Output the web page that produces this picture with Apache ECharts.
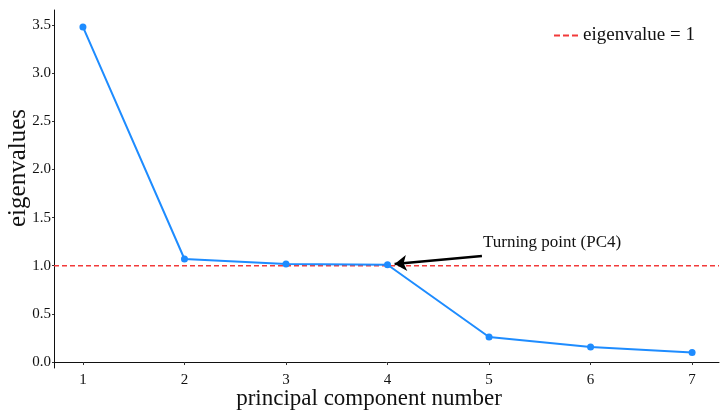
<!DOCTYPE html>
<html>
<head>
<meta charset="utf-8">
<script src="https://cdn.jsdelivr.net/npm/echarts@6/dist/echarts.min.js"></script>
<style>
  html, body { margin: 0; padding: 0; background: #fff; }
  #chart { width: 728px; height: 417px; }
</style>
</head>
<body>
<div id="chart"></div>
<script>
// scree plot data
const components = [1, 2, 3, 4, 5, 6, 7];
const eigenvalues = [3.48, 1.07, 1.018, 1.01, 0.26, 0.157, 0.1];
const yTicks = [0, 0.5, 1, 1.5, 2, 2.5, 3, 3.5];
const threshold = 1;
const thresholdName = 'eigenvalue = 1';
const annotationText = 'Turning point (PC4)';

const serif = '"Liberation Serif", "DejaVu Serif", serif';
const xMin = 0.715, xMax = 7.265;
const yMin = -0.062, yMax = 3.656;
const red = '#f23a3a';
const blue = '#1e8cff';

const chart = echarts.init(document.getElementById('chart'), null, { renderer: 'canvas' });

chart.setOption({
  animation: false,
  grid: { left: 54, right: 9, top: 10, bottom: 49 },
  legend: {
    data: [{
      name: thresholdName,
      // three short dashes like the ggplot key
      icon: 'path://M0,0h6v2h-6zM9,0h6v2h-6zM18,0h6v2h-6z',
      itemStyle: { color: red },
    }],
    right: 28,
    top: 21,
    itemWidth: 24,
    itemHeight: 2,
    itemGap: 8,
    textStyle: { fontFamily: serif, fontSize: 19, color: '#111' },
  },
  xAxis: {
    type: 'value',
    min: xMin,
    max: xMax,
    axisLine: { lineStyle: { color: '#111', width: 1 } },
    axisTick: { show: true, length: 3, customValues: components, lineStyle: { color: '#333' } },
    axisLabel: {
      customValues: components,
      color: '#111',
      fontFamily: serif,
      fontSize: 15,
      margin: 5,
    },
    splitLine: { show: false },
  },
  yAxis: {
    type: 'value',
    min: yMin,
    max: yMax,
    axisLine: { show: true, lineStyle: { color: '#111', width: 1 } },
    axisTick: { show: true, length: 2, customValues: yTicks, lineStyle: { color: '#333' } },
    axisLabel: {
      customValues: yTicks,
      color: '#111',
      fontFamily: serif,
      fontSize: 15,
      margin: 3,
      formatter: (v) => v.toFixed(1),
    },
    splitLine: { show: false },
  },
  series: [
    {
      name: thresholdName,
      type: 'line',
      symbol: 'none',
      data: [[xMin, threshold], [xMax, threshold]],
      lineStyle: { color: red, width: 1.5, type: [5, 3] },
      itemStyle: { color: red },
      z: 1,
    },
    {
      name: 'eigenvalues',
      type: 'line',
      symbol: 'circle',
      symbolSize: 7,
      data: components.map((c, i) => [c, eigenvalues[i]]),
      lineStyle: { color: blue, width: 2 },
      itemStyle: { color: blue },
      z: 3,
      markLine: {
        silent: true,
        symbol: ['none', 'arrow'],
        symbolSize: 12,
        lineStyle: { color: '#000', width: 2.5, type: 'solid' },
        itemStyle: { color: '#000' },
        label: { show: false },
        data: [[{ coord: [4.93, 1.10] }, { coord: [4.07, 1.018] }]],
      },
      markPoint: {
        silent: true,
        symbol: 'circle',
        symbolSize: 0,
        label: {
          show: true,
          position: 'right',
          distance: 0,
          formatter: annotationText,
          fontFamily: serif,
          fontSize: 17,
          color: '#111',
        },
        data: [{ coord: [4.94, 1.236] }],
      },
    },
  ],
  graphic: [
    {
      type: 'text',
      x: 18,
      y: 168,
      rotation: Math.PI / 2,
      style: {
        text: 'eigenvalues',
        font: '25px ' + serif,
        fill: '#111',
        textAlign: 'center',
        textVerticalAlign: 'middle',
      },
    },
    {
      type: 'text',
      x: 369,
      y: 399,
      style: {
        text: 'principal component number',
        font: '23px ' + serif,
        fill: '#111',
        textAlign: 'center',
        textVerticalAlign: 'middle',
      },
    },
  ],
});
</script>
</body>
</html>
